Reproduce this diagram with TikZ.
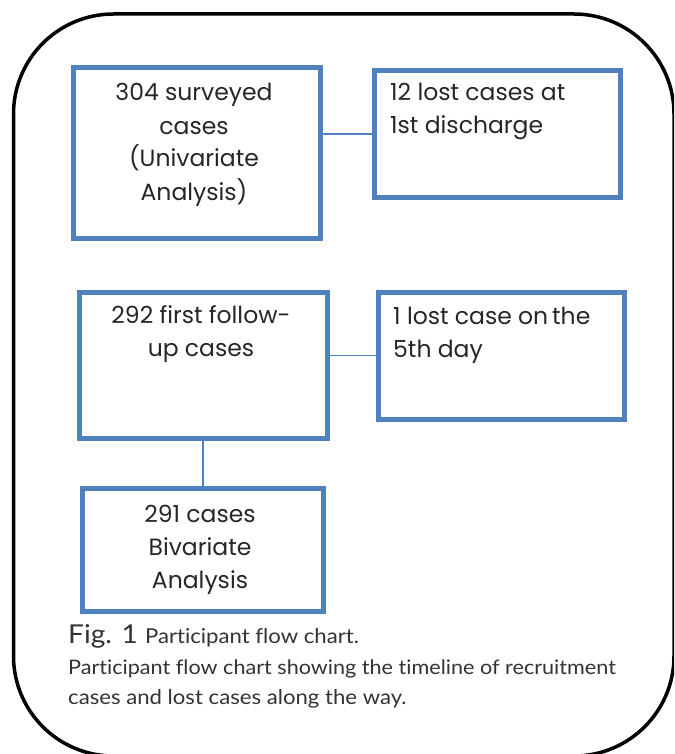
\documentclass[tikz,border=0pt]{standalone}
\usepackage{fontspec}
\setmainfont{Poppins}
\newfontfamily\capfont[FakeStretch=1.08, Ligatures=NoCommon]{Lato}
\definecolor{boxblue}{RGB}{79,129,189}
\begin{document}
\begin{tikzpicture}[x=1pt,y=-1pt,
  box/.style={draw=boxblue, line width=5pt, inner sep=0pt, anchor=north west},
  link/.style={draw=boxblue, line width=1.5pt},
  boxtxt/.style={inner sep=0pt, font=\fontsize{23.5}{33}\selectfont, text=black!85},
  captxt/.style={inner sep=0pt, anchor=base west, text=black!80}]
\useasboundingbox (0,0) rectangle (674,754);
\clip (0,0) rectangle (674,754);
\draw[line width=3.5pt, rounded corners=100pt] (13.5,14) rectangle (674,756);

\node[box, minimum width=247pt, minimum height=170pt] (b1) at (70.5,65.5) {};
\node[box, minimum width=246pt, minimum height=126pt] (b2) at (371.5,68.5) {};
\node[box, minimum width=248pt, minimum height=146pt] (b3) at (76.5,289.5) {};
\node[box, minimum width=246pt, minimum height=127pt] (b4) at (375.5,289.5) {};
\node[box, minimum width=241pt, minimum height=123pt] (b5) at (79.5,485.5) {};

\node[boxtxt, align=center, anchor=base] (t1) at (194,200) {304 surveyed\\cases\\(Univariate\\Analysis)};
\node[boxtxt, align=left, anchor=base west] (t2) at (390,134) {12 lost cases at\\1st discharge};
\node[boxtxt, align=center, anchor=base] (t3) at (201,356) {292 first follow-\\up cases};
\node[boxtxt, align=left, anchor=base west] (t4) at (393,357) {1 lost case on\,the\\5th day};
\node[boxtxt, align=center, anchor=base] (t5) at (200,588) {291 cases\\Bivariate\\Analysis};

\draw[link] (b1.east |- b2.west) -- (b2.west);
\draw[link] (b3.east |- b4.west) -- (b4.west);
\draw[link] (b3.south) -- (b3.south |- b5.north);

\node[captxt] (c1) at (68,643) {\capfont\fontsize{26}{26}\selectfont Fig. 1 \fontsize{20.5}{20}\selectfont Participant flow chart.};
\node[captxt] (c2) at (68,674) {\capfont\fontsize{20}{20}\selectfont Participant flow chart showing the timeline of recruitment};
\node[captxt] (c3) at (68,704) {\capfont\fontsize{20.5}{20}\selectfont cases and lost cases along the way.};
\end{tikzpicture}
\end{document}
